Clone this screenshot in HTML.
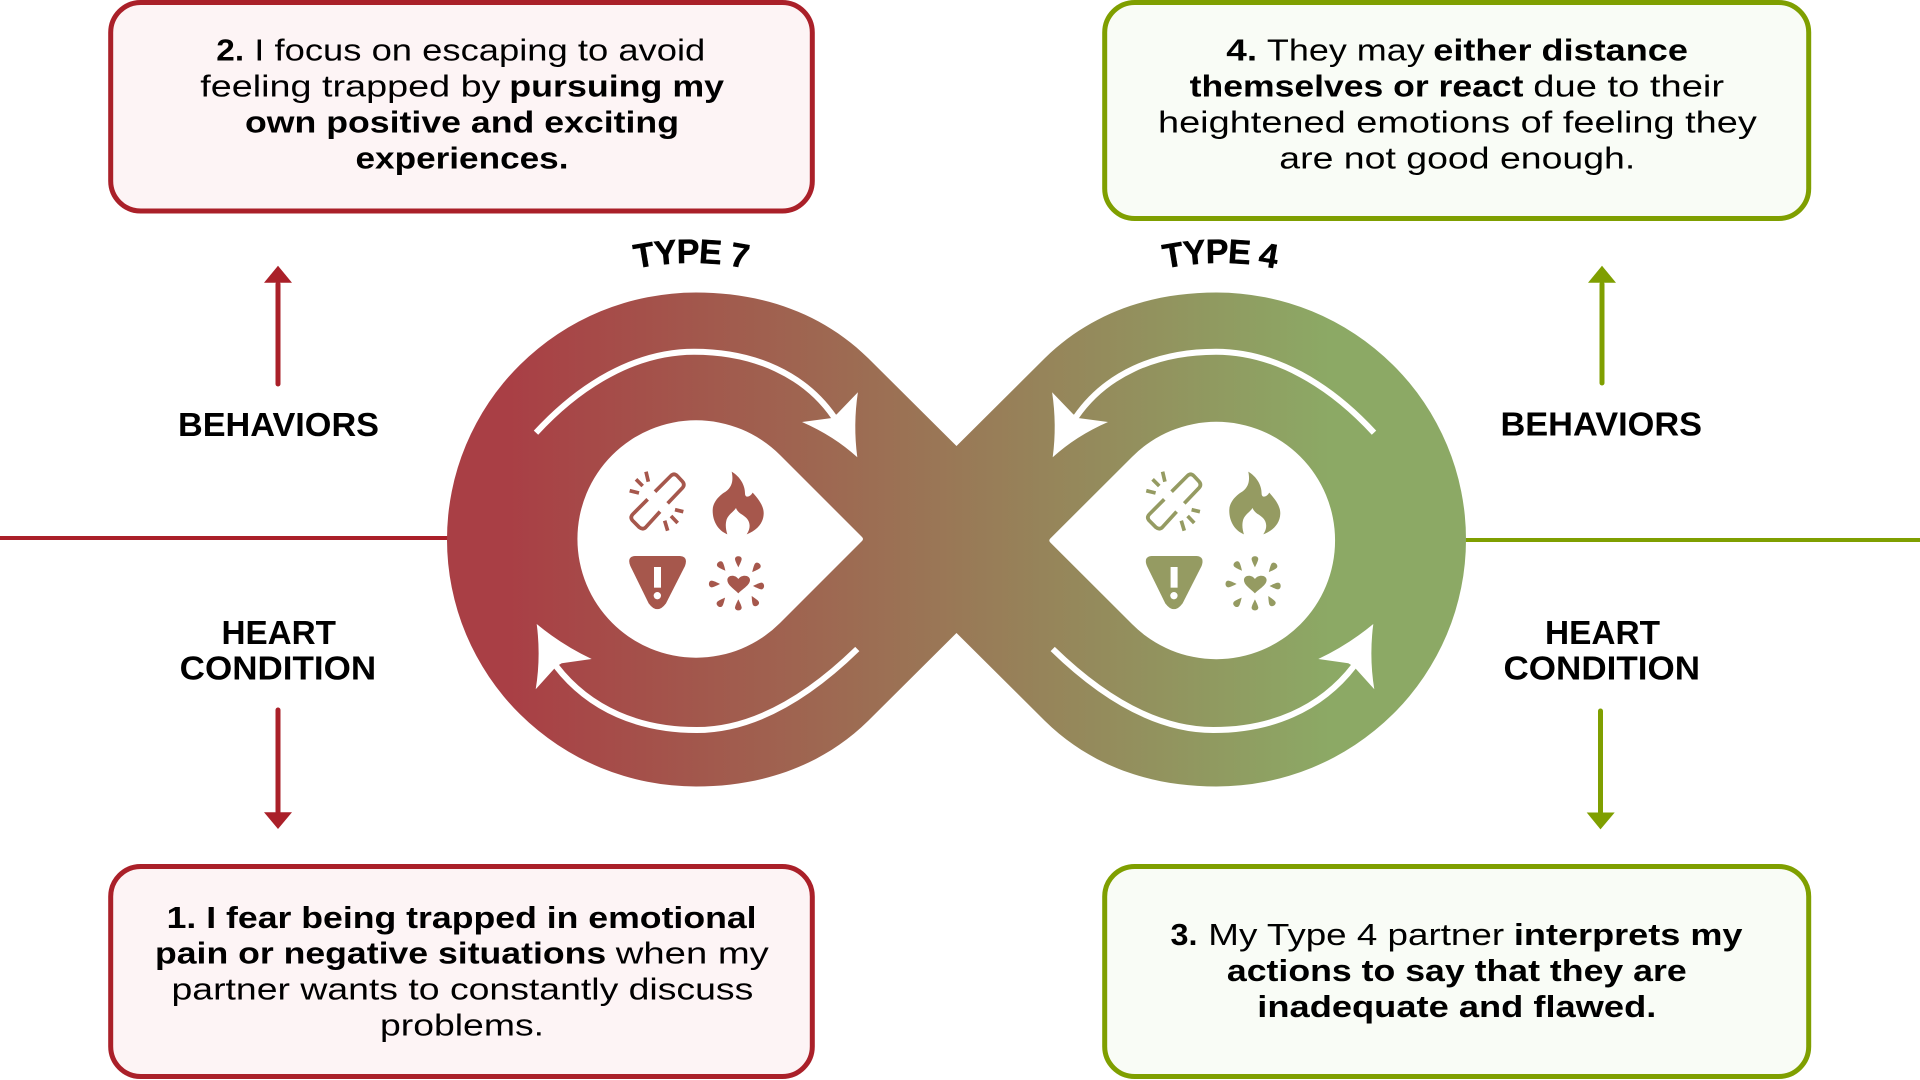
<!DOCTYPE html>
<html lang="en">
<head>
<meta charset="utf-8">
<title>Type 7 and Type 4 cycle</title>
<style>
html,body{margin:0;padding:0;background:#fff;width:1920px;height:1080px;overflow:hidden}
svg{display:block}
text{font-family:"Liberation Sans",Arial,sans-serif;fill:#000}
.r{font-size:31px}
.b{font-size:31px;font-weight:700}
.l{font-size:33px;font-weight:700}
.t{font-size:34px;font-weight:700;letter-spacing:-1px;stroke:#000;stroke-width:.5px}
</style>
</head>
<body>
<svg width="1920" height="1080" viewBox="0 0 1920 1080" xmlns="http://www.w3.org/2000/svg">
<defs>
<linearGradient id="g" gradientUnits="userSpaceOnUse" x1="510" y1="0" x2="1330" y2="0">
<stop offset="0" stop-color="#a93f45"/>
<stop offset="1" stop-color="#8ca965"/>
</linearGradient>
<path id="arcL" d="M 414 540 A 277 277 0 0 1 968 540"/>
<path id="arcR" d="M 943 540 A 277 277 0 0 1 1497 540"/>
<g id="icons">
<g fill="none" stroke="currentColor" stroke-width="11">
<path d="M285 155L332 108Q342 98 352 108L367 124Q376 134 367 144L323 190"/>
<path d="M263 178L219 222Q209 232 218 242L238 262Q248 270 257 262L300 215"/>
<path d="M258 95L265 125M228 118L248 138M209 152L237 159M345 209L370 215M333 228L353 249M314 242L323 272"/>
</g>
<path fill="currentColor" d="M515 95C540 110 555 135 555 160C555 175 570 172 578 158C598 180 612 200 611 222C610 250 590 272 560 283C575 262 570 240 552 228C545 222 533 218 528 204C518 218 507 222 500 238C495 255 498 270 502 283C475 272 458 245 458 212C458 185 480 165 497 155C518 140 520 118 515 95Z"/>
<path fill="currentColor" d="M225 348L360 348Q385 350 375 378L318 490Q292 525 266 490L211 378Q200 350 225 348Z"/>
<rect x="282" y="381" width="21" height="62" fill="#fff"/>
<circle cx="292" cy="467" r="11" fill="#fff"/>
<path fill="currentColor" d="M535 460C520 445 502 435 502 420C502 405 525 402 535 417C545 402 570 405 570 420C570 435 550 445 535 460Z"/>
<g fill="currentColor">
<path transform="translate(535 366)" d="M0 16C-4 8-10-4-10-9C-10-20 10-20 10-9C10-4 4 8 0 16Z"/>
<path transform="translate(587 384) rotate(40)" d="M0 16C-4 8-10-4-10-9C-10-20 10-20 10-9C10-4 4 8 0 16Z"/>
<path transform="translate(595 438) rotate(90)" d="M0 16C-4 8-10-4-10-9C-10-20 10-20 10-9C10-4 4 8 0 16Z"/>
<path transform="translate(583 482) rotate(150)" d="M0 16C-4 8-10-4-10-9C-10-20 10-20 10-9C10-4 4 8 0 16Z"/>
<path transform="translate(535 494) rotate(180)" d="M0 16C-4 8-10-4-10-9C-10-20 10-20 10-9C10-4 4 8 0 16Z"/>
<path transform="translate(485 485) rotate(-140)" d="M0 16C-4 8-10-4-10-9C-10-20 10-20 10-9C10-4 4 8 0 16Z"/>
<path transform="translate(464 432) rotate(-90)" d="M0 16C-4 8-10-4-10-9C-10-20 10-20 10-9C10-4 4 8 0 16Z"/>
<path transform="translate(486 380) rotate(-40)" d="M0 16C-4 8-10-4-10-9C-10-20 10-20 10-9C10-4 4 8 0 16Z"/>
</g>
</g>
<g id="swirls">
<path d="M536 432.7C580 385 635 351.7 694 351.7C755 351.7 805 375 834 417" fill="none" stroke="#fff" stroke-width="6"/>
<path d="M857.9 392.3L837 414L832 418L802 422Q834 436 857.3 457.3Q853 425 857.9 392.3Z" fill="#fff"/>
<path d="M857.3 649C810 695 755 730 696.7 730C640 730 590 710 556 666" fill="none" stroke="#fff" stroke-width="6"/>
<path d="M536.7 624Q562 645 591.7 659L561.7 663.3L556 666.7L535.7 689.3Q541 657 536.7 624Z" fill="#fff"/>
</g>
</defs>

<!-- horizontal rules -->
<rect x="0" y="536" width="450" height="4" fill="#aa2029"/>
<rect x="1462" y="538" width="458" height="4" fill="#7f9f00"/>

<!-- infinity band -->
<path d="M956.5 446L1045 358C1091 313 1150.5 292.5 1216.5 292.5A249.5 247 0 0 1 1466 539.5A249.5 247 0 0 1 1216.5 786.5C1150.5 786.5 1091 766 1045 721L956.5 633L868 721C822 766 762 786.5 696 786.5A249 247 0 0 1 447 539.5A249 247 0 0 1 696 292.5C762 292.5 822 313 868 358Z" fill="url(#g)"/>
<path d="M862 537Q864 539 862 541L780 623A118.7 118.7 0 1 1 780 455Z" fill="#fff"/>
<path d="M1050.3 538.5Q1048.3 540.5 1050.3 542.5L1132.5 624.5A118.7 118.7 0 1 0 1132.5 456.5Z" fill="#fff"/>

<use href="#swirls"/>
<use href="#swirls" transform="translate(1910 0) scale(-1 1)"/>

<!-- icons -->
<use href="#icons" transform="translate(560 440) scale(.33333)" style="color:#a6574c"/>
<use href="#icons" transform="translate(1076.6 440) scale(.33333)" style="color:#959b62"/>

<!-- type labels -->
<text class="t" text-anchor="middle"><textPath href="#arcL" startOffset="50%">TYPE 7</textPath></text>
<text class="t" text-anchor="middle"><textPath href="#arcR" startOffset="50%">TYPE 4</textPath></text>

<!-- left arrows -->
<path d="M278 284V384" stroke="#aa2029" stroke-width="5" stroke-linecap="round" fill="none"/>
<path d="M278 265.7L292 282.7H264Z" fill="#aa2029"/>
<path d="M278 710V812" stroke="#aa2029" stroke-width="5" stroke-linecap="round" fill="none"/>
<path d="M278 829L264 812.3H292Z" fill="#aa2029"/>
<!-- right arrows -->
<path d="M1602 284V383" stroke="#7f9f00" stroke-width="5" stroke-linecap="round" fill="none"/>
<path d="M1602 265.8L1616 282.7H1588Z" fill="#7f9f00"/>
<path d="M1600.5 711V812" stroke="#7f9f00" stroke-width="5" stroke-linecap="round" fill="none"/>
<path d="M1600.5 829.4L1586.7 812.5H1614.7Z" fill="#7f9f00"/>

<!-- side labels -->
<text class="l" x="178" y="436" textLength="201" lengthAdjust="spacingAndGlyphs">BEHAVIORS</text>
<text class="l" x="221.5" y="644" textLength="114.5" lengthAdjust="spacingAndGlyphs">HEART</text>
<text class="l" x="179.7" y="679.7" textLength="196.5" lengthAdjust="spacingAndGlyphs">CONDITION</text>
<text class="l" x="1500.5" y="435.5" textLength="201.5" lengthAdjust="spacingAndGlyphs">BEHAVIORS</text>
<text class="l" x="1545" y="644" textLength="115" lengthAdjust="spacingAndGlyphs">HEART</text>
<text class="l" x="1503.5" y="679.6" textLength="196.5" lengthAdjust="spacingAndGlyphs">CONDITION</text>

<!-- box 2 -->
<rect x="110.7" y="2.5" width="701.6" height="208.5" rx="30" fill="#fdf4f5" stroke="#aa2029" stroke-width="5"/>
<text class="b" x="216.3" y="60.7" textLength="27.8" lengthAdjust="spacingAndGlyphs">2.</text>
<text class="r" x="254.3" y="60.7" textLength="451" lengthAdjust="spacingAndGlyphs">I focus on escaping to avoid</text>
<text class="r" x="200.3" y="96.7" textLength="300.2" lengthAdjust="spacingAndGlyphs">feeling trapped by</text>
<text class="b" x="509.3" y="96.7" textLength="214.8" lengthAdjust="spacingAndGlyphs">pursuing my</text>
<text class="b" x="245" y="132.3" textLength="434" lengthAdjust="spacingAndGlyphs">own positive and exciting</text>
<text class="b" x="355.5" y="168.3" textLength="213" lengthAdjust="spacingAndGlyphs">experiences.</text>

<!-- box 4 -->
<rect x="1104.7" y="2.5" width="704" height="216" rx="30" fill="#f9fcf6" stroke="#7f9f00" stroke-width="5"/>
<text class="b" x="1226.3" y="60.7" textLength="30.8" lengthAdjust="spacingAndGlyphs">4.</text>
<text class="r" x="1266.9" y="60.7" textLength="157.8" lengthAdjust="spacingAndGlyphs">They may</text>
<text class="b" x="1433.3" y="60.7" textLength="254.6" lengthAdjust="spacingAndGlyphs">either distance</text>
<text class="b" x="1189.7" y="96.7" textLength="333.8" lengthAdjust="spacingAndGlyphs">themselves or react</text>
<text class="r" x="1533.3" y="96.7" textLength="190.8" lengthAdjust="spacingAndGlyphs">due to their</text>
<text class="r" x="1158" y="132.3" textLength="598.8" lengthAdjust="spacingAndGlyphs">heightened emotions of feeling they</text>
<text class="r" x="1279.3" y="168.3" textLength="356" lengthAdjust="spacingAndGlyphs">are not good enough.</text>

<!-- box 1 -->
<rect x="110.7" y="866.5" width="701.6" height="210" rx="30" fill="#fdf4f5" stroke="#aa2029" stroke-width="5"/>
<text class="b" x="166.6" y="927.8" textLength="590" lengthAdjust="spacingAndGlyphs">1. I fear being trapped in emotional</text>
<text class="b" x="155" y="963.3" textLength="451.2" lengthAdjust="spacingAndGlyphs">pain or negative situations</text>
<text class="r" x="615.8" y="963.3" textLength="153" lengthAdjust="spacingAndGlyphs">when my</text>
<text class="r" x="171.5" y="999.3" textLength="581.8" lengthAdjust="spacingAndGlyphs">partner wants to constantly discuss</text>
<text class="r" x="380" y="1035.3" textLength="164" lengthAdjust="spacingAndGlyphs">problems.</text>

<!-- box 3 -->
<rect x="1104.7" y="866.5" width="704" height="210" rx="30" fill="#f9fcf6" stroke="#7f9f00" stroke-width="5"/>
<text class="b" x="1170.5" y="945" textLength="27" lengthAdjust="spacingAndGlyphs">3.</text>
<text class="r" x="1208.3" y="945" textLength="295.8" lengthAdjust="spacingAndGlyphs">My Type 4 partner</text>
<text class="b" x="1513.9" y="945" textLength="228.6" lengthAdjust="spacingAndGlyphs">interprets my</text>
<text class="b" x="1226.9" y="980.9" textLength="459.8" lengthAdjust="spacingAndGlyphs">actions to say that they are</text>
<text class="b" x="1257.3" y="1017.2" textLength="399" lengthAdjust="spacingAndGlyphs">inadequate and flawed.</text>
</svg>
</body>
</html>
